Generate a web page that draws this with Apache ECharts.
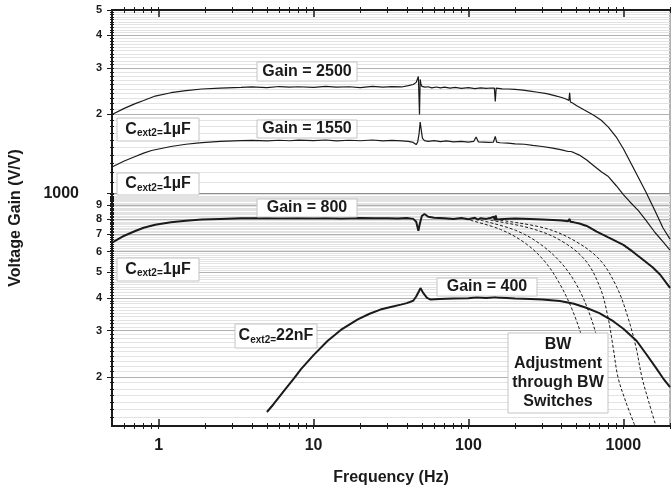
<!DOCTYPE html>
<html>
<head>
<meta charset="utf-8">
<script src="https://cdn.jsdelivr.net/npm/echarts@6/dist/echarts.min.js"></script>
<style>
  html, body { margin: 0; padding: 0; background: #fff; }
  #chart { width: 671px; height: 491px; }
</style>
</head>
<body>
<div id="chart"></div>
<script>
// frequency (Hz) / voltage gain (V/V)
const freq2500 = [0.5,0.6,0.7,0.8,0.95,1.2,1.5,1.9,2.5,3.4,4,5,6,7,8,10,12,14,17,20,24,28,32,37,41,44,46,47.5,48.3,48.8,49.3,50,51,52.5,55,58,62,66,70,76,82,90,100,110,120,130,140,147,149,151,155,165,180,200,225,250,280,320,360,400,430,445,450,455,470,500,560,640,720,800,900,1000,1100,1250,1400,1600,1800,2000];
const gain2500 = [2000,2110,2195,2260,2350,2420,2465,2500,2520,2535,2545,2530,2555,2540,2550,2535,2560,2540,2550,2530,2560,2540,2555,2545,2575,2600,2650,2790,2000,2720,2620,2560,2600,2540,2550,2525,2545,2525,2540,2520,2535,2515,2530,2510,2525,2515,2522,2520,2240,2520,2530,2505,2500,2490,2475,2455,2430,2400,2360,2320,2285,2260,2420,2230,2210,2160,2080,1990,1900,1790,1640,1480,1330,1150,1010,860,740,670];

const freq1550 = [0.5,0.6,0.7,0.8,0.9,1.2,1.5,1.9,2.5,3.4,4,5,6,7,8,10,12,14,17,20,24,28,32,37,41,44,46,47,48,48.8,49.6,50.5,52,55,60,66,72,80,90,100,108,112,116,125,135,145,149,152,160,180,200,230,260,300,350,400,440,452,458,480,520,580,650,720,800,900,1000,1100,1250,1400,1600,1800,2000];
const gain1550 = [1262,1330,1380,1425,1458,1510,1540,1562,1580,1590,1592,1585,1595,1588,1596,1590,1598,1585,1595,1588,1598,1585,1592,1585,1580,1565,1535,1570,1690,1870,1740,1620,1590,1578,1590,1575,1585,1572,1580,1570,1578,1640,1572,1570,1565,1570,1650,1568,1560,1555,1545,1540,1525,1510,1488,1465,1445,1420,1445,1430,1400,1340,1270,1210,1160,1070,990,930,860,790,710,655,608];

const freq800 = [0.5,0.6,0.7,0.8,0.95,1.2,1.5,1.9,2.5,3.4,4,5,6,8,10,12,15,20,25,30,35,40,44,46,47.5,48.5,50,52,55,60,70,80,90,100,110,115,120,130,140,146,148,150,152,155,170,200,250,300,350,400,440,450,455,480,520,580,673,800,1000,1150,1340,1550,1730,2000];
const gain800 = [650,690,718,740,760,776,787,795,800,804,805,806,804,807,805,806,803,806,804,805,803,806,800,780,720,765,820,835,815,808,805,800,806,798,808,795,805,800,808,815,790,825,795,805,800,802,800,796,792,788,784,800,780,776,768,752,716,680,637,600,559,522,490,437];

const freq400 = [5,5.5,6.5,7.5,8.3,10,12.3,15,19.3,23,27,32,36.6,40,44,46,48,49,51,54,57,65,80,100,113,130,150,152,155,200,251,300,390,480,575,700,860,1000,1220,1400,1620,1800,2000];
const gain400 = [147,157,178,198,214,242,274,302,331,348,361,370,377,382,390,405,425,436,418,400,394,396,398,399,402,400,403,409,401,398,396,394,389,380,367,350,326,305,274,245,217,198,183];

// BW switch settings (dashed)
const bw1Freq = [103,161,233,313,392,468,542,611,668];
const bw1Gain = [790,729,646,548,448,360,282,217,167];
const bw2Freq = [120,201,291,403,511,611,688,751,785];
const bw2Gain = [790,724,641,538,437,342,270,208,160];
const bw3Freq = [139,251,392,567,708,797,859,924,1040,1189];
const bw3Gain = [790,737,663,557,437,336,259,199,160,130];
const bw4Freq = [161,313,489,708,911,1072,1207,1319,1462,1622];
const bw4Gain = [790,737,658,557,437,336,259,199,160,130];

const xMajorTicks = [1, 10, 100, 1000];
const xMinorTicks = [0.6,0.7,0.8,0.9, 2,3,4,5,6,7,8,9, 20,30,40,50,60,70,80,90, 200,300,400,500,600,700,800,900, 2000];
const yMajorTicks = [200,300,400,500,600,700,800,900, 2000,3000,4000,5000];
const yMinorTicks = [];
[[130, 200, 10], [200, 1000, 10], [1000, 5000, 100]].forEach(([a, b, s]) => {
  for (let v = a + s; v < b; v += s) {
    if (yMajorTicks.indexOf(v) < 0) yMinorTicks.push(v);
  }
});

const X_MIN = 0.5, X_MAX = 2000, Y_MIN = 130, Y_MAX = 5000;
const FONT = '"Liberation Sans", Arial, sans-serif';
const INK = '#1a1a1a';

function logAxis(min, max, position, ticks, inside, length, width) {
  return {
    type: 'log', logBase: 10, min: min, max: max, position: position,
    axisLine: { show: true, onZero: false, lineStyle: { color: INK, width: 1.5 } },
    axisTick: { show: true, customValues: ticks, inside: inside, length: length,
      lineStyle: { color: INK, width: width } },
    axisLabel: { show: false },
    splitLine: { show: false }
  };
}

const xAll = xMinorTicks.concat(xMajorTicks);
const yAll = yMinorTicks.concat(yMajorTicks, [1000]);

const xBottom = logAxis(X_MIN, X_MAX, 'bottom', xAll, false, 3, 1);
xBottom.axisLabel = {
  show: true, customValues: xMajorTicks, margin: 12,
  formatter: v => String(v),
  fontFamily: FONT, fontWeight: 'bold', fontSize: 16, color: INK
};
xBottom.name = 'Frequency (Hz)';
xBottom.nameLocation = 'middle';
xBottom.nameGap = 44;
xBottom.nameTextStyle = { fontFamily: FONT, fontWeight: 'bold', fontSize: 16, color: INK };

const yMinor = logAxis(Y_MIN, Y_MAX, 'left', yMinorTicks, false, 2, 1);
yMinor.splitLine = { show: true, lineStyle: { color: '#e3e3e3', width: 1 } };
yMinor.name = 'Voltage Gain (V/V)';
yMinor.nameLocation = 'middle';
yMinor.nameGap = 88;
yMinor.nameTextStyle = { fontFamily: FONT, fontWeight: 'bold', fontSize: 16, color: INK };

const yMajor = logAxis(Y_MIN, Y_MAX, 'left', yMajorTicks, false, 5, 1);
yMajor.splitLine = { show: true, lineStyle: { color: '#b0b0b0', width: 1 } };
yMajor.axisLabel = {
  show: true, customValues: yMajorTicks, margin: 10,
  formatter: v => String(v >= 1000 ? Math.round(v / 1000) : Math.round(v / 100)),
  fontFamily: FONT, fontWeight: 'bold', fontSize: 11, color: INK
};

const yThousand = logAxis(Y_MIN, Y_MAX, 'left', [1000], false, 5, 1);
yThousand.splitLine = { show: true, lineStyle: { color: '#8c8c8c', width: 1.2 } };
yThousand.axisLabel = {
  show: true, customValues: [1000], margin: 33, formatter: v => String(v),
  fontFamily: FONT, fontWeight: 'bold', fontSize: 16, color: INK
};

function pairs(fs, gs) { return fs.map((f, i) => [f, gs[i]]); }

function curve(name, fs, gs, width, dashed) {
  return {
    name: name, type: 'line', xAxisIndex: 0, yAxisIndex: 0,
    data: pairs(fs, gs), showSymbol: false, symbol: 'none',
    smooth: dashed ? 0.35 : false, silent: true, z: 5,
    lineStyle: { color: INK, width: width, type: dashed ? [3, 2] : 'solid' }
  };
}

const notes = [
  { x: 257, y: 62, w: 100, h: 19, text: 'Gain = 2500' },
  { x: 257, y: 120, w: 100, h: 18, text: 'Gain = 1550' },
  { x: 257, y: 199, w: 100, h: 18, text: 'Gain = 800' },
  { x: 437, y: 278, w: 100, h: 18, text: 'Gain = 400' },
  { x: 508, y: 333, w: 100, h: 80, text: 'BW\nAdjustment\nthrough BW\nSwitches' },
  { x: 117, y: 118, w: 82, h: 23, text: '{c|C}{s|ext2=}{c|1µF}' },
  { x: 117, y: 173, w: 82, h: 22, text: '{c|C}{s|ext2=}{c|1µF}' },
  { x: 117, y: 258, w: 82, h: 23, text: '{c|C}{s|ext2=}{c|1µF}' },
  { x: 235, y: 324, w: 82, h: 24, text: '{c|C}{s|ext2=}{c|22nF}' }
];

const graphic = [];
notes.forEach(n => {
  graphic.push({
    type: 'rect', z: 100,
    shape: { x: n.x, y: n.y, width: n.w, height: n.h },
    style: { fill: '#fff', stroke: '#c4c4c4', lineWidth: 1 }
  });
  graphic.push({
    type: 'text', z: 101, x: n.x + n.w / 2, y: n.y + n.h / 2,
    style: {
      text: n.text, align: 'center', verticalAlign: 'middle',
      fontFamily: FONT, fontWeight: 'bold', fontSize: 16, lineHeight: 19, fill: INK,
      rich: {
        c: { fontFamily: FONT, fontWeight: 'bold', fontSize: 16, lineHeight: 18, fill: INK },
        s: { fontFamily: FONT, fontWeight: 'bold', fontSize: 10, lineHeight: 12, fill: INK, verticalAlign: 'bottom' }
      }
    }
  });
});

const chart = echarts.init(document.getElementById('chart'), null, { renderer: 'canvas' });
chart.setOption({
  backgroundColor: '#fff',
  animation: false,
  grid: { left: 110, top: 10, right: 1, bottom: 62, show: true, borderColor: '#666', borderWidth: 1, backgroundColor: '#fff' },
  xAxis: [
    xBottom,
    logAxis(X_MIN, X_MAX, 'bottom', xMinorTicks, true, 3, 1),
    logAxis(X_MIN, X_MAX, 'bottom', xMajorTicks, true, 7, 1.5),
    logAxis(X_MIN, X_MAX, 'top', xAll, false, 3, 1),
    logAxis(X_MIN, X_MAX, 'top', xMinorTicks, true, 3, 1),
    logAxis(X_MIN, X_MAX, 'top', xMajorTicks, true, 7, 1.5)
  ],
  yAxis: [
    yMinor,
    yMajor,
    yThousand,
    logAxis(Y_MIN, Y_MAX, 'left', yAll, true, 2, 1)
  ],
  series: [
    curve('Gain = 2500', freq2500, gain2500, 1.2, false),
    curve('Gain = 1550', freq1550, gain1550, 1.2, false),
    curve('Gain = 800', freq800, gain800, 2, false),
    curve('Gain = 400', freq400, gain400, 2, false),
    curve('BW 1', bw1Freq, bw1Gain, 1, true),
    curve('BW 2', bw2Freq, bw2Gain, 1, true),
    curve('BW 3', bw3Freq, bw3Gain, 1, true),
    curve('BW 4', bw4Freq, bw4Gain, 1, true)
  ],
  graphic: graphic
});
</script>
</body>
</html>
